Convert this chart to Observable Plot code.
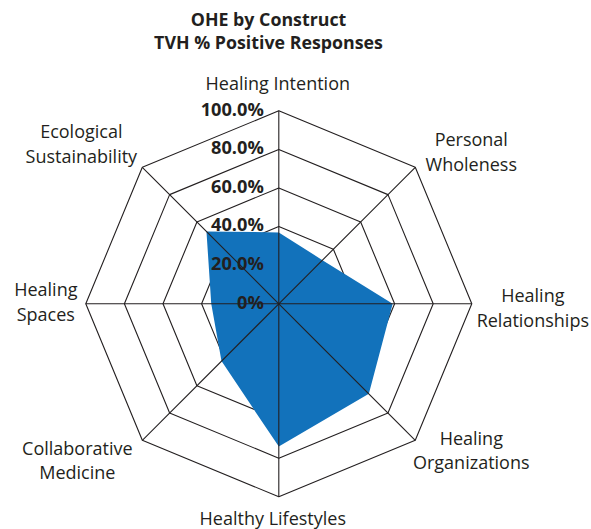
<!DOCTYPE html>
<html>
<head>
<meta charset="utf-8">
<script src="https://cdn.jsdelivr.net/npm/d3@7"></script>
<script src="https://cdn.jsdelivr.net/npm/@observablehq/plot@0.6"></script>
<style>
  html, body { margin: 0; padding: 0; background: #fff; }
  #title { width: 537px; height: 54px; box-sizing: border-box; padding-top: 8px;
           text-align: center; font-family: "Open Sans", sans-serif; font-weight: bold;
           font-size: 17.8px; line-height: 22.7px; color: #231f20; }
</style>
</head>
<body>
<div id="title">OHE by Construct<br>TVH % Positive Responses</div>
<div id="chart"></div>
<script>
// ---- data ----
const categories = ["Healing Intention", "Personal\nWholeness", "Healing\nRelationships", "Healing\nOrganizations",
                    "Healthy Lifestyles", "Collaborative\nMedicine", "Healing\nSpaces", "Ecological\nSustainability"];
const values = [0.37, 0.32, 0.59, 0.66, 0.74, 0.42, 0.35, 0.53];
const ringLevels = [0.2, 0.4, 0.6, 0.8, 1.0];
const tickValues = [0, 0.2, 0.4, 0.6, 0.8, 1.0];
const tickLabels = ["0%", "20.0%", "40.0%", "60.0%", "80.0%", "100.0%"];

// ---- layout (label nudges in px, not data) ----
const labelNudge = [[-1, -29], [56, -17], [61, 3], [56, 9], [-6, 20], [-65, 19], [-40, -3], [-61, -25]];

const n = categories.length;
const ang = i => Math.PI / 2 - i * 2 * Math.PI / n;
const px = (i, r) => r * Math.cos(ang(i));
const py = (i, r) => r * Math.sin(ang(i));

const ink = "#231f20";
const W = 591, H = 475, R = 193, cx = 278.3, cy = 249.3;

const rings = ringLevels.flatMap(r => d3.range(n + 1).map(i => ({ring: r, x: px(i % n, r), y: py(i % n, r)})));
const poly = d3.range(n + 1).map(i => ({x: px(i % n, values[i % n]), y: py(i % n, values[i % n])}));
const spokes = categories.map((c, i) => ({x1: 0, y1: 0, x2: px(i, 1), y2: py(i, 1)}));
const ticks = tickValues.map((v, k) => ({x: 0, y: v, label: tickLabels[k]}));

const chart = Plot.plot({
  width: W, height: H,
  margin: 0,
  x: {domain: [-cx / R, (W - cx) / R], axis: null},
  y: {domain: [(cy - H) / R, cy / R], axis: null},
  style: {fontFamily: "'Open Sans', sans-serif", color: ink, background: "#fff"},
  marks: [
    Plot.line(rings, {x: "x", y: "y", z: "ring", stroke: ink, strokeWidth: 1.1}),
    Plot.line(poly, {x: "x", y: "y", fill: "#1272bb", stroke: "none"}),
    Plot.link(spokes, {x1: "x1", y1: "y1", x2: "x2", y2: "y2", stroke: ink, strokeWidth: 1.1}),
    Plot.text(ticks, {x: "x", y: "y", text: "label", textAnchor: "end", dx: -15, dy: -1,
                      fontSize: 18.2, fontWeight: "bold", fill: ink}),
    ...categories.map((c, i) => Plot.text([c], {x: px(i, 1), y: py(i, 1), text: d => d,
        dx: labelNudge[i][0], dy: labelNudge[i][1], textAnchor: "middle", lineAnchor: "middle",
        lineHeight: 1.37, fontSize: 18, fill: ink}))
  ]
});
document.getElementById("chart").appendChild(chart);
</script>
</body>
</html>
